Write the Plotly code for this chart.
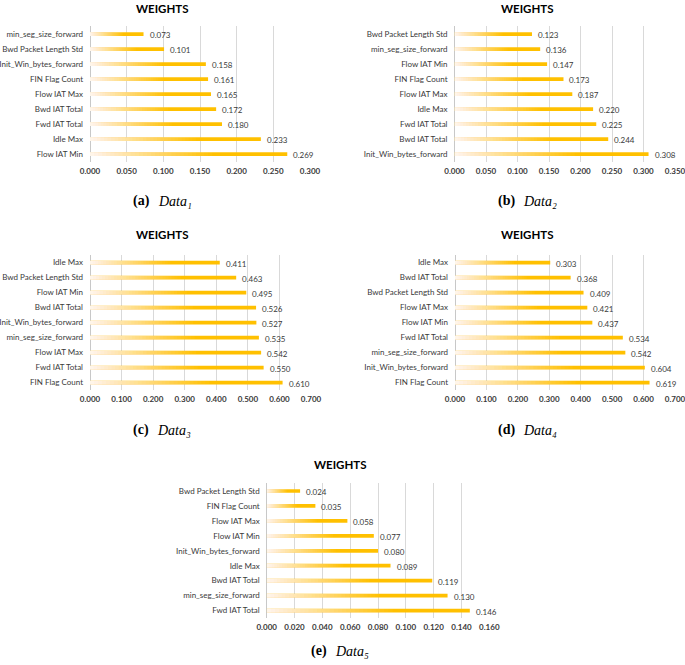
import plotly.graph_objects as go

W, H = 685, 665

# ---------------- data (top -> bottom order as shown) ----------------
cats_a = ["min_seg_size_forward", "Bwd Packet Length Std", "Init_Win_bytes_forward", "FIN Flag Count",
          "Flow IAT Max", "Bwd IAT Total", "Fwd IAT Total", "Idle Max", "Flow IAT Min"]
vals_a = [0.073, 0.101, 0.158, 0.161, 0.165, 0.172, 0.180, 0.233, 0.269]

cats_b = ["Bwd Packet Length Std", "min_seg_size_forward", "Flow IAT Min", "FIN Flag Count",
          "Flow IAT Max", "Idle Max", "Fwd IAT Total", "Bwd IAT Total", "Init_Win_bytes_forward"]
vals_b = [0.123, 0.136, 0.147, 0.173, 0.187, 0.220, 0.225, 0.244, 0.308]

cats_c = ["Idle Max", "Bwd Packet Length Std", "Flow IAT Min", "Bwd IAT Total", "Init_Win_bytes_forward",
          "min_seg_size_forward", "Flow IAT Max", "Fwd IAT Total", "FIN Flag Count"]
vals_c = [0.411, 0.463, 0.495, 0.526, 0.527, 0.535, 0.542, 0.550, 0.610]

cats_d = ["Idle Max", "Bwd IAT Total", "Bwd Packet Length Std", "Flow IAT Max", "Flow IAT Min",
          "Fwd IAT Total", "min_seg_size_forward", "Init_Win_bytes_forward", "FIN Flag Count"]
vals_d = [0.303, 0.368, 0.409, 0.421, 0.437, 0.534, 0.542, 0.604, 0.619]

cats_e = ["Bwd Packet Length Std", "FIN Flag Count", "Flow IAT Max", "Flow IAT Min", "Init_Win_bytes_forward",
          "Idle Max", "Bwd IAT Total", "min_seg_size_forward", "Fwd IAT Total"]
vals_e = [0.024, 0.035, 0.058, 0.077, 0.080, 0.089, 0.119, 0.130, 0.146]

axis_max = [0.30, 0.35, 0.70, 0.70, 0.16]
axis_step = [0.05, 0.05, 0.10, 0.10, 0.02]
panel_letters = ["a", "b", "c", "d", "e"]
panel_index = ["₁", "₂", "₃", "₄", "₅"]
chart_title = "WEIGHTS"
caption_word = "Data"

# ---------------- layout (pixels) ----------------
panel_box = [  # x0, x1, y0(top), y1(bottom)
    (90, 310, 26, 161.5),
    (454.5, 675, 26, 161.5),
    (90, 311, 254.5, 390),
    (455, 675, 254.5, 390),
    (266.7, 489.3, 483, 618),
]
title_pos = [(162, 8), (527, 8), (162, 235), (527, 235), (340, 464)]
caption_pos = [(152, 155.5, 201), (516.7, 520.7, 201), (151, 155, 430), (516.7, 520.7, 430), (329.3, 333.3, 651)]

GOLD = "#FFC000"
GRID = "#D9D9D9"
TXT = "#3A3A3A"
FONT = "Lato"

cats_all = [cats_a, cats_b, cats_c, cats_d, cats_e]
vals_all = [vals_a, vals_b, vals_c, vals_d, vals_e]

# gradient overlay alphas (white overlays from the left producing a roughly linear ramp)
K = 30
GRAD = 0.62
W0 = 0.95
g = [1 - W0 * (K - j + 1) / K for j in range(1, K + 2)]
g[K] = 1.0
alphas = [1 - g[j] / g[j + 1] for j in range(K)]

fig = go.Figure()
layout = dict(
    width=W, height=H, margin=dict(l=0, r=0, t=0, b=0, autoexpand=False),
    paper_bgcolor="white", plot_bgcolor="white",
    showlegend=False, barmode="overlay",
    font=dict(family=FONT, color=TXT, size=8),
)
annotations = []
BAR_W = 0.25

for i in range(5):
    n = i + 1
    xa = "x" if n == 1 else f"x{n}"
    ya = "y" if n == 1 else f"y{n}"
    cats, vals = cats_all[i], vals_all[i]
    x0, x1, y0, y1 = panel_box[i]

    fig.add_trace(go.Bar(
        y=cats, x=vals, orientation="h", xaxis=xa, yaxis=ya,
        marker=dict(color=GOLD, line=dict(width=0)), width=BAR_W,
    ))
    for k in range(K):
        frac = GRAD * (k + 1) / K
        fig.add_trace(go.Bar(
            y=cats, x=[v * frac for v in vals], orientation="h", xaxis=xa, yaxis=ya,
            marker=dict(color=f"rgba(255,255,255,{alphas[k]:.4f})", line=dict(width=0)),
            width=BAR_W, hoverinfo="skip",
        ))
    for c, v in zip(cats, vals):
        annotations.append(dict(
            x=v, y=c, xref=xa, yref=ya, text=f"{v:.3f}", showarrow=False,
            xanchor="left", yanchor="middle", xshift=4, yshift=-1,
            font=dict(family=FONT, size=8, color=TXT),
        ))

    xkey = "xaxis" if n == 1 else f"xaxis{n}"
    ykey = "yaxis" if n == 1 else f"yaxis{n}"
    layout[xkey] = dict(
        domain=[x0 / W, x1 / W], anchor=ya, range=[0, axis_max[i]],
        dtick=axis_step[i], tick0=0, tickformat=".3f",
        showgrid=True, gridcolor=GRID, gridwidth=1,
        zeroline=True, zerolinecolor="#C8C8C8", zerolinewidth=1,
        showline=False, ticks="", fixedrange=True, automargin=False,
        tickfont=dict(family=FONT, size=8, color=TXT, weight="bold"),
        ticklabelstandoff=3, ticklabeloverflow="allow",
    )
    layout[ykey] = dict(
        domain=[1 - y1 / H, 1 - y0 / H], anchor=xa, autorange="reversed",
        type="category", categoryorder="array", categoryarray=cats,
        showgrid=False, zeroline=False, showline=False, ticks="", automargin=False,
        tickfont=dict(family=FONT, size=8, color=TXT), ticklabelstandoff=6, fixedrange=True,
        ticklabeloverflow="allow",
    )
    tx, ty = title_pos[i]
    annotations.append(dict(
        text=chart_title, x=tx / W, y=1 - ty / H, xref="paper", yref="paper",
        showarrow=False, xanchor="center", yanchor="middle",
        font=dict(family=FONT, size=11.5, color="#000000", weight="bold"),
    ))
    px, dx, cy = caption_pos[i]
    annotations.append(dict(
        text=f"({panel_letters[i]})", x=px / W, y=1 - cy / H, xref="paper", yref="paper",
        showarrow=False, xanchor="right", yanchor="middle",
        font=dict(family="Liberation Serif", size=14, color="#000000", weight="bold"),
    ))
    annotations.append(dict(
        text=f"{caption_word}{panel_index[i]}", x=dx / W, y=1 - cy / H, xref="paper", yref="paper",
        showarrow=False, xanchor="left", yanchor="middle",
        font=dict(family="Liberation Serif", size=14, color="#000000", style="italic"),
    ))

layout["annotations"] = annotations
fig.update_layout(**layout)
fig.write_html("out.html", config={"displayModeBar": False},
               post_script="document.body.style.margin='0px';")
